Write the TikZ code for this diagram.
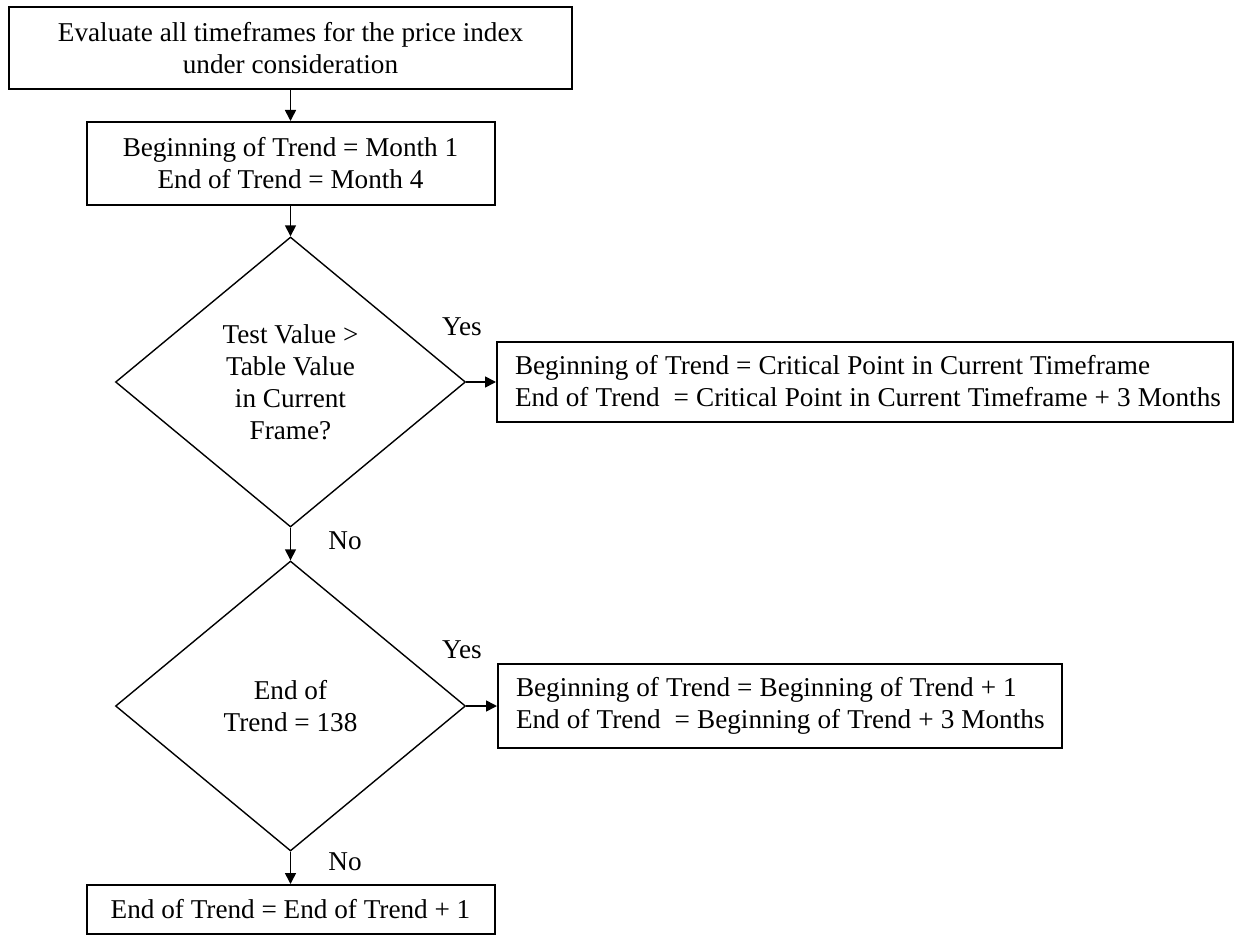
\documentclass[tikz,border=0pt]{standalone}
\usepackage{fontspec}
\setmainfont{Liberation Serif}
\usetikzlibrary{shapes.geometric,arrows.meta}
\newcommand\tightspaces{\spaceskip=0.26em\relax}
\begin{document}
\begin{tikzpicture}[x=0.5pt,y=-0.5pt,
  font=\fontsize{13.6pt}{16pt}\selectfont,
  box/.style={draw, line width=1pt, inner sep=0pt, align=center},
  rbox/.style={draw, line width=1pt, inner xsep=9pt, inner ysep=0pt, align=left},
  dec/.style={draw, diamond, aspect=1.207, line width=0.7pt, inner sep=0pt,
              minimum width=175pt, minimum height=145pt, align=center},
  arr/.style={line width=0.8pt, -{Triangle[length=5.5pt,width=5.5pt]}},
  lbl/.style={inner sep=0pt}]
\useasboundingbox (0,0) rectangle (1235,935);

\node[box, minimum width=281.5pt, minimum height=41pt] (start) at (290.5,48)
  {Evaluate all timeframes for the price index\\under consideration};
\node[box, minimum width=204pt, minimum height=41.5pt] (init) at (290.5,163.5)
  {Beginning of Trend = Month 1\\End of Trend = Month 4};
\node[dec] (d1) at (290.5,382)
  {Test Value >\\Table Value\\in Current\\Frame?};
\node[rbox, text width=350pt, minimum height=40pt] (crit) at (865,381.5)
  {\tightspaces\mbox{Beginning of Trend = Critical Point in Current Timeframe}\\\mbox{\tightspaces End of Trend~ = Critical Point in Current Timeframe + 3 Months}};
\node[dec] (d2) at (290.5,706)
  {End of\\Trend = 138};
\node[rbox, text width=264pt, minimum height=42pt] (next) at (780,706)
  {\tightspaces\mbox{Beginning of Trend = Beginning of Trend + 1}\\\mbox{\tightspaces End of Trend~ = Beginning of Trend + 3 Months}};
\node[box, minimum width=204pt, minimum height=24.5pt] (endbox) at (290.5,909.5)
  {End of Trend = End of Trend + 1};

\draw[arr] (start.south) -- (init.north);
\draw[arr] (init.south) -- (d1.north);
\draw[arr] (d1.east) -- (d1.east -| crit.west);
\draw[arr] (d1.south) -- (d2.north);
\draw[arr] (d2.east) -- (d2.east -| next.west);
\draw[arr] (d2.south) -- (endbox.north);

\node[lbl] (yes1) at (462,327) {Yes};
\node[lbl] (no1) at (345,541) {No};
\node[lbl] (yes2) at (462,650) {Yes};
\node[lbl] (no2) at (345,862) {No};
\end{tikzpicture}
\end{document}
